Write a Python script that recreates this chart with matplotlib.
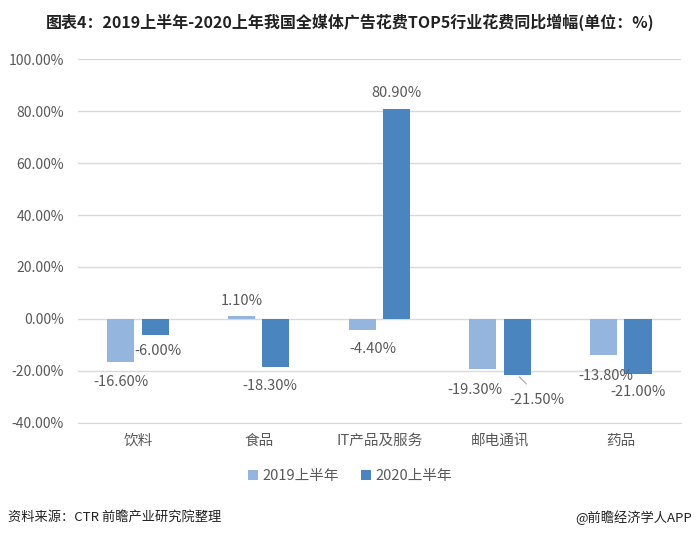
import numpy as np
import matplotlib
matplotlib.use('Agg')
import matplotlib.pyplot as plt

plt.rcParams['font.family'] = ['Noto Sans CJK SC', 'DejaVu Sans']

categories = ['饮料', '食品', 'IT产品及服务', '邮电通讯', '药品']
series_names = ['2019上半年', '2020上半年']
values_2019 = [-16.6, 1.1, -4.4, -19.3, -13.8]
values_2020 = [-6.0, -18.3, 80.9, -21.5, -21.0]
y_ticks = [-40, -20, 0, 20, 40, 60, 80, 100]

color_2019 = '#93b5de'
color_2020 = '#4a85bf'
text_gray = '#595959'

fig = plt.figure(figsize=(7, 5.38), dpi=100)
ax = fig.add_axes([0.111, 0.2138, 0.862, 0.6765])

x = np.arange(len(categories))
w = 0.225
gap = 0.03
b1 = ax.bar(x - w / 2 - gap, values_2019, w, color=color_2019, label=series_names[0], zorder=3)
b2 = ax.bar(x + w / 2 + gap, values_2020, w, color=color_2020, label=series_names[1], zorder=3)

ax.set_xlim(-0.5, len(categories) - 0.5)
ax.set_ylim(-40, 100)
ax.set_yticks(y_ticks)
ax.set_yticklabels(['%.2f%%' % v for v in y_ticks], color=text_gray, fontsize=10)
ax.set_xticks(x)
ax.set_xticklabels(categories, color=text_gray, fontsize=10.5)
ax.tick_params(axis='both', length=0, pad=10)
ax.tick_params(axis='x', pad=8)
ax.grid(axis='y', color='#d9d9d9', linewidth=1, zorder=0)
for s in ['top', 'right', 'left']:
    ax.spines[s].set_visible(False)
ax.spines['bottom'].set_color('#d9d9d9')

# data labels: (dx points, dy points) relative to bar end
offs_2019 = [(0, -17), (0, 6), (8, -16), (-6, -18), (2, -18)]
offs_2020 = [(2, -15), (-4, -17), (0, 6), (14, -21), (0, -16)]

def label_bars(bars, vals, offs):
    for bar, v, (dx, dy) in zip(bars, vals, offs):
        cx = bar.get_x() + bar.get_width() / 2
        va = 'bottom' if v >= 0 else 'top'
        ax.annotate('%.2f%%' % v, (cx, v), xytext=(dx, dy if v >= 0 else dy + 8),
                    textcoords='offset points', ha='center', va=va,
                    fontsize=10.5, color=text_gray, zorder=5)

label_bars(b1, values_2019, offs_2019)
label_bars(b2, values_2020, offs_2020)

# leader line for -21.50%
lb = b2[3]
lx = lb.get_x() + lb.get_width() / 2
ax.annotate('', (lx, values_2020[3]), xytext=(8, -8), textcoords='offset points',
            arrowprops=dict(arrowstyle='-', color='#a6a6a6', lw=0.8))

leg = fig.legend(loc='center', bbox_to_anchor=(0.5, 0.115), ncol=2, frameon=False,
                 fontsize=10.5, handlelength=0.7, handleheight=0.7, handletextpad=0.3,
                 columnspacing=1.5)
for t in leg.get_texts():
    t.set_color(text_gray)

fig.text(0.5, 0.958, '图表4：2019上半年-2020上年我国全媒体广告花费TOP5行业花费同比增幅(单位：%)',
         ha='center', va='center', fontsize=11.5, fontweight='bold', color='#222222')
fig.text(0.011, 0.038, '资料来源：CTR 前瞻产业研究院整理', ha='left', va='center',
         fontsize=9.5, color='#222222')
fig.text(0.989, 0.038, '@前瞻经济学人APP', ha='right', va='center',
         fontsize=9.5, color='#222222')

fig.savefig('out.png', dpi=100)
